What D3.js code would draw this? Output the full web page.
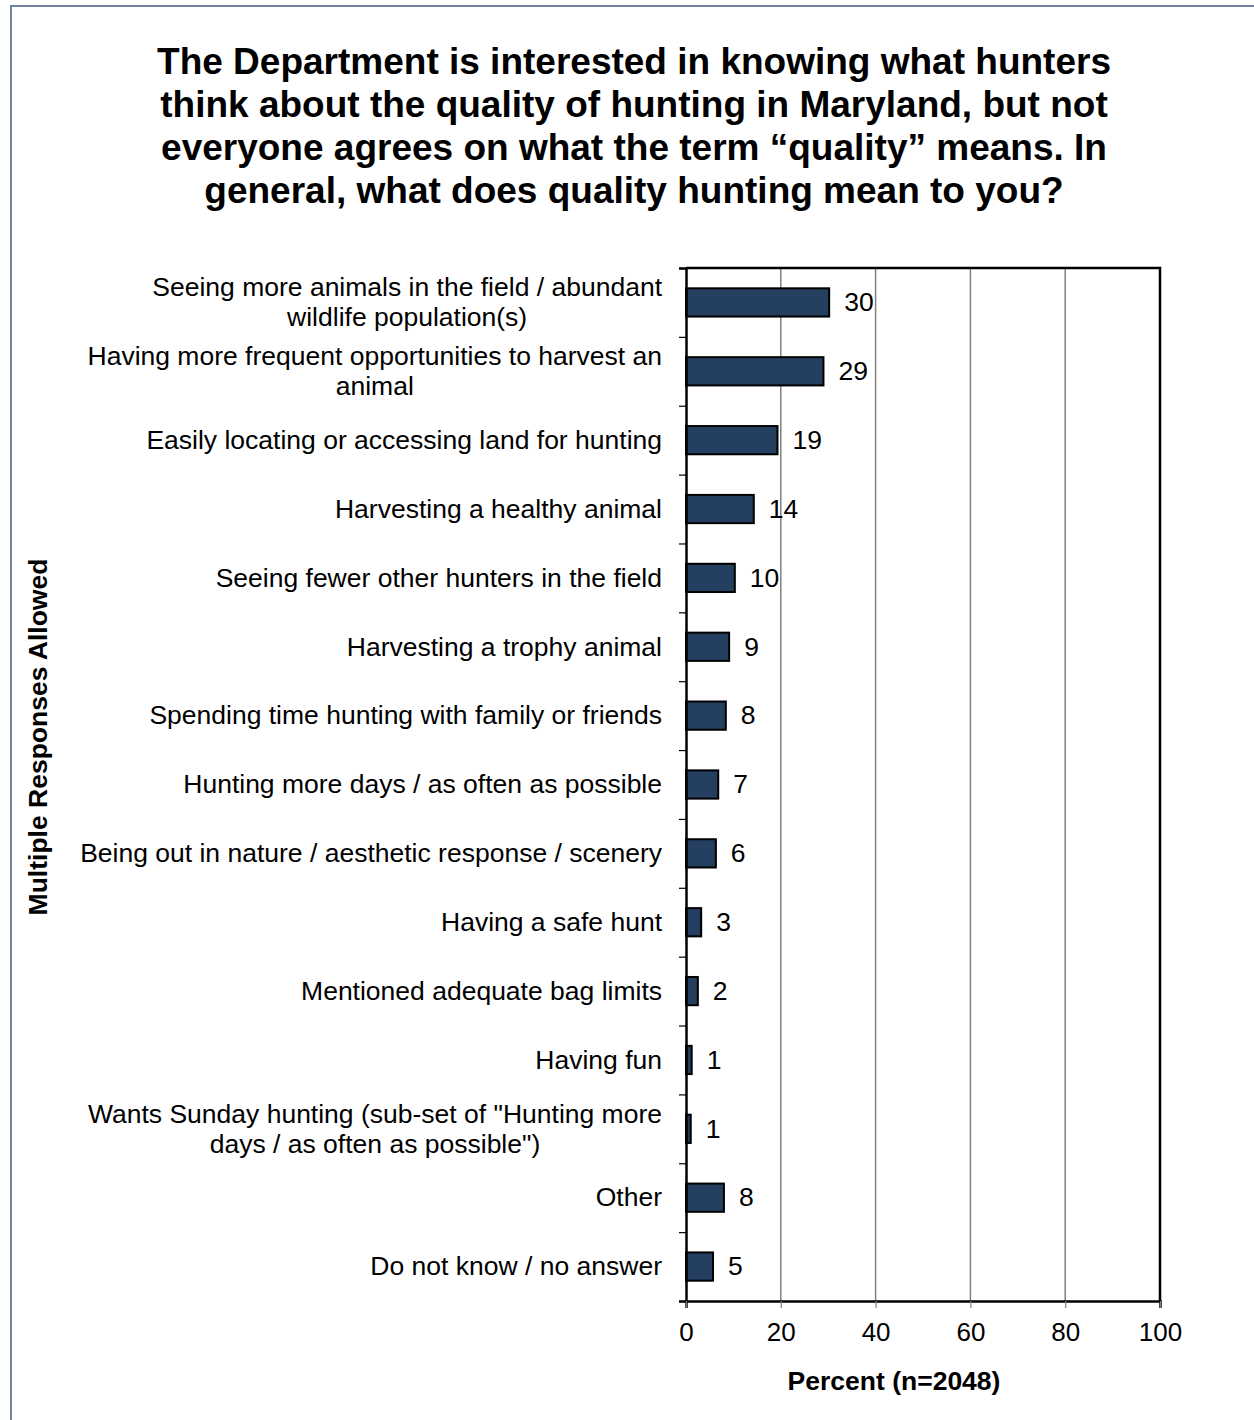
<!DOCTYPE html>
<html><head><meta charset="utf-8">
<script src="https://cdn.jsdelivr.net/npm/d3@7"></script>
<style>body{margin:0;background:#fff}svg{display:block}text{font-family:"Liberation Sans",Arial,sans-serif;fill:#000}</style>
</head><body>
<svg id="c" width="1254" height="1420"></svg>
<script>
const titleLines = [
  "The Department is interested in knowing what hunters",
  "think about the quality of hunting in Maryland, but not",
  "everyone agrees on what the term \u201cquality\u201d means. In",
  "general, what does quality hunting mean to you?"
];
const categories = [
  ["Seeing more animals in the field / abundant", "wildlife population(s)"],
  ["Having more frequent opportunities to harvest an", "animal"],
  ["Easily locating or accessing land for hunting"],
  ["Harvesting a healthy animal"],
  ["Seeing fewer other hunters in the field"],
  ["Harvesting a trophy animal"],
  ["Spending time hunting with family or friends"],
  ["Hunting more days / as often as possible"],
  ["Being out in nature / aesthetic response / scenery"],
  ["Having a safe hunt"],
  ["Mentioned adequate bag limits"],
  ["Having fun"],
  ["Wants Sunday hunting (sub-set of \"Hunting more", "days / as often as possible\")"],
  ["Other"],
  ["Do not know / no answer"]
];
const values = [30.2, 29.0, 19.3, 14.3, 10.3, 9.1, 8.4, 6.8, 6.3, 3.2, 2.5, 1.2, 1.0, 8.0, 5.7];
const valueLabels = ["30","29","19","14","10","9","8","7","6","3","2","1","1","8","5"];
const xTicks = [0, 20, 40, 60, 80, 100];
const xTitle = "Percent (n=2048)";
const yTitle = "Multiple Responses Allowed";

const svg = d3.select("#c");
svg.append("rect").attr("x",11).attr("y",6).attr("width",1260).attr("height",1440)
  .attr("fill","none").attr("stroke","#70829c").attr("stroke-width",2);

const L=686, R=1160, T=268, B=1301;
const x = d3.scaleLinear().domain([0,100]).range([L,R]);
const y = d3.scaleBand().domain(d3.range(categories.length)).range([T,B]).paddingInner(0.59).paddingOuter(0.295);
const yb = d3.scaleBand().domain(d3.range(categories.length)).range([T,B]);

// title
svg.append("g").selectAll("text").data(titleLines).join("text")
  .attr("x",634).attr("y",(d,i)=>74+i*43).attr("text-anchor","middle")
  .style("font-size","37px").style("font-weight","bold").text(d=>d);

// gridlines
svg.append("g").selectAll("line").data(xTicks.slice(1,-1)).join("line")
  .attr("x1",d=>x(d)).attr("x2",d=>x(d)).attr("y1",T).attr("y2",B)
  .attr("stroke","#808080").attr("stroke-width",1.5);

// bars
svg.append("g").selectAll("rect").data(values).join("rect")
  .attr("x",x(0)).attr("y",(d,i)=>y(i)).attr("width",d=>x(d)-x(0)).attr("height",y.bandwidth())
  .attr("fill","#243f60").attr("stroke","#000").attr("stroke-width",2);

// value labels
svg.append("g").selectAll("text").data(values).join("text")
  .attr("x",d=>x(d)+15).attr("y",(d,i)=>y(i)+y.bandwidth()/2).attr("dy","0.33em")
  .style("font-size","26.5px").text((d,i)=>valueLabels[i]);

// plot frame (top, right)
svg.append("path").attr("d",`M${L},${T}H${R}V${B}`).attr("fill","none").attr("stroke","#000").attr("stroke-width",2.5);

// y axis
const yAxis = svg.append("g").attr("transform",`translate(${L},0)`)
  .call(d3.axisLeft(d3.scaleLinear().domain([0,categories.length]).range([T,B]))
    .tickValues(d3.range(categories.length+1)).tickSize(7).tickFormat(""));
yAxis.select(".domain").attr("stroke","#000").attr("stroke-width",2.5);
yAxis.selectAll(".tick line").attr("stroke","#000").attr("stroke-width",1.2);

// x axis
const xAxis = svg.append("g").attr("transform",`translate(0,${B})`)
  .call(d3.axisBottom(x).tickValues(xTicks).tickSize(7).tickPadding(15));
xAxis.select(".domain").attr("stroke","#000").attr("stroke-width",2.5);
xAxis.selectAll(".tick line").attr("stroke","#808080").attr("stroke-width",1.2);
xAxis.selectAll(".tick text").style("font-size","26px").style("font-family","Liberation Sans, Arial, sans-serif").attr("fill","#000");

// category labels
const cg = svg.append("g");
categories.forEach((lines,i)=>{
  const cy = yb(i)+yb.bandwidth()/2;
  const lh = 30;
  const g = cg.append("g");
  const texts = lines.map((s,j)=>g.append("text")
    .attr("y", cy + (j-(lines.length-1)/2)*lh).attr("dy","0.33em")
    .style("font-size","26.5px").text(s));
  const maxW = d3.max(texts,t=>t.node().getComputedTextLength());
  texts.forEach(t=>t.attr("x",662-maxW/2).attr("text-anchor","middle"));
});

// axis titles
svg.append("text").attr("x",894).attr("y",1381).attr("dy","0.35em").attr("text-anchor","middle")
  .style("font-size","26.5px").style("font-weight","bold").text(xTitle);
svg.append("text").attr("transform","translate(38,737) rotate(-90)").attr("dy","0.35em").attr("text-anchor","middle")
  .style("font-size","26.5px").style("font-weight","bold").text(yTitle);
</script>
</body></html>
